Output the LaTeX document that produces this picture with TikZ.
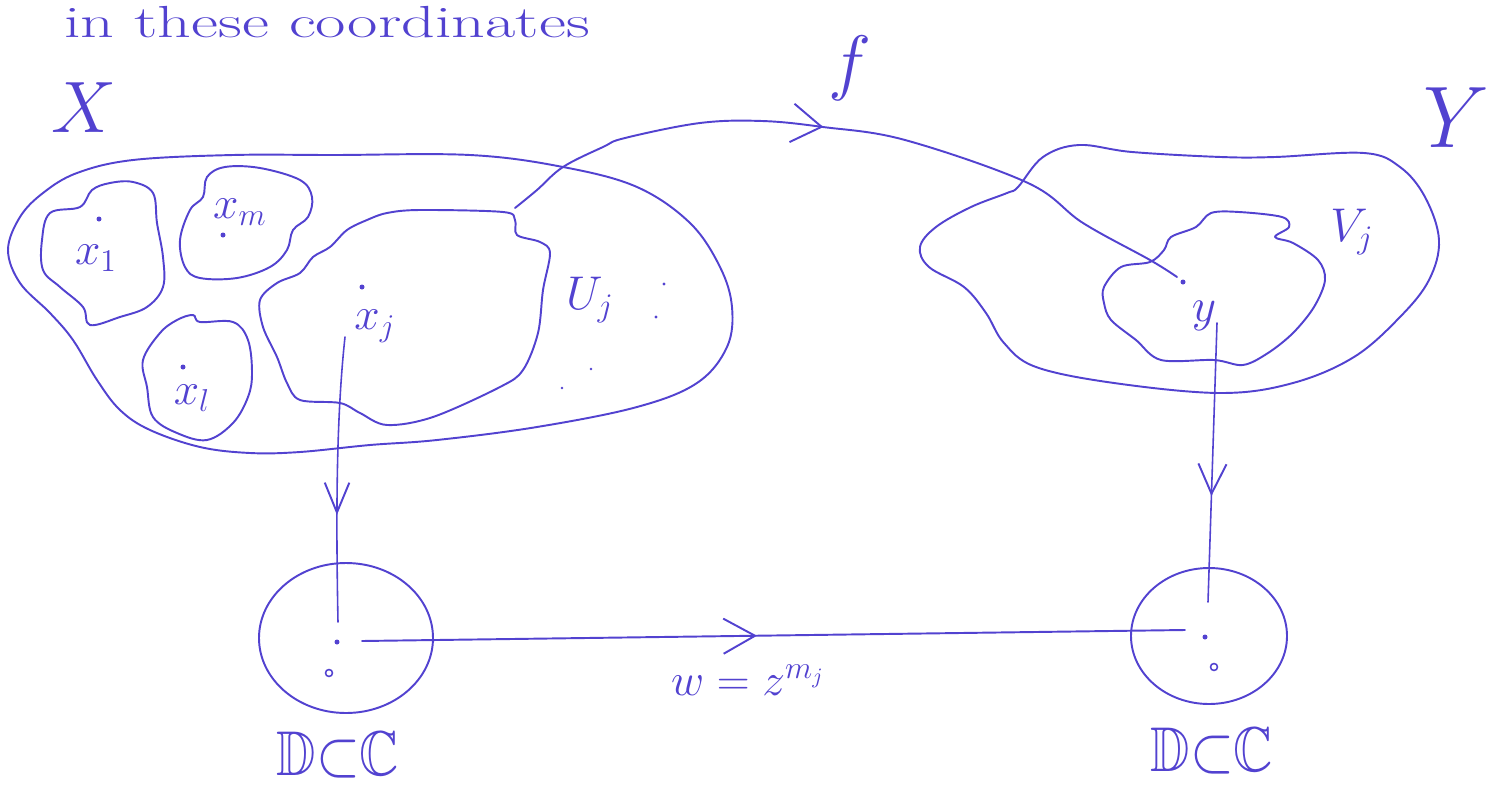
\documentclass[tikz,border=0pt]{standalone}
\usepackage{graphicx}
\usepackage{amssymb}
\usetikzlibrary{arrows.meta,decorations.markings}
\definecolor{ink}{RGB}{82,66,208}
\newcommand{\mylbl}[3]{\scalebox{#1}[#2]{\fontsize{20}{24}\selectfont #3}}
\tikzset{
  pen/.style={draw=ink, line width=1.1pt, line cap=round, line join=round},
  lab/.style={text=ink, inner sep=0pt},
  pt/.style={fill=ink, draw=none},
  midarrow/.style n args={3}{postaction={decorate, decoration={markings,
     mark=at position #1 with {\arrow[ink, line width=1.1pt]{Straight Barb[length=#2,width=#3]}}}}}
}
\begin{document}
\begin{tikzpicture}[x=0.02cm, y=-0.02cm]
\useasboundingbox (0,0) rectangle (1492,785);
% title
\node[lab, anchor=base west] (title) at (64,37) {\mylbl{1.88}{1.28}{in these coordinates}};
% set X
\draw[pen] plot[smooth cycle, tension=0.6] coordinates {(8,250) (20,217) (43,193) (77,173) (133,160) (233,155) (333,155) (470,155) (563,167) (637,187) (690,223) (720,267) (732,307) (727,347) (697,383) (637,407) (537,427) (437,440) (370,445) (300,452) (250,453) (200,447) (150,430) (120,410) (97,380) (73,340) (50,313) (20,283)};
\node[lab] (X) at (84,108) {\mylbl{2}{2}{$X$}};
% x_1 blob
\draw[pen] plot[smooth cycle, tension=0.6] coordinates {(50,213) (80,207) (92,190) (110,183) (133,182) (153,193) (157,223) (163,257) (163,287) (147,307) (120,317) (90,325) (83,307) (60,287) (43,270) (42,240)};
\fill[pt] (99,219) circle (2.5);
\node[lab] (x1) at (96,258) {\mylbl{1.25}{1.25}{$x_1$}};
% x_m blob
\draw[pen] plot[smooth cycle, tension=0.6] coordinates {(190,210) (203,197) (207,177) (225,167) (260,168) (300,180) (312,197) (308,217) (293,230) (287,250) (270,267) (237,278) (200,278) (185,267) (180,240)};
\fill[pt] (223,235) circle (2.5);
\node[lab] (xm) at (240,212) {\mylbl{1.25}{1.25}{$x_m$}};
% x_l blob
\draw[pen] plot[smooth cycle, tension=0.6] coordinates {(143,360) (160,333) (177,320) (193,315) (200,322) (233,322) (248,340) (252,373) (248,397) (233,423) (207,440) (177,433) (153,417) (147,387)};
\fill[pt] (183,367) circle (2.5);
\node[lab] (xl) at (192,398) {\mylbl{1.25}{1.25}{$x_l$}};
% x_j blob
\draw[pen] plot[smooth cycle, tension=0.55] coordinates {(260,300) (277,283) (300,273) (313,257) (330,247) (347,230) (367,220) (387,213) (420,210) (503,212) (515,220) (517,235) (540,242) (550,253) (543,290) (538,333) (523,370) (500,387) (433,417) (387,425) (360,413) (340,403) (300,400) (287,383) (277,357) (263,327)};
\fill[pt] (362,287) circle (2.5);
\node[lab] (xjl) at (375,326) {\mylbl{1.25}{1.25}{$x_j$}};
\node[lab] (uj) at (590,300) {\mylbl{1.3}{1.3}{$U_j$}};
\fill[pt] (664,284) circle (1.6);
\fill[pt] (656,317) circle (1.6);
\fill[pt] (591,369) circle (1.4);
\fill[pt] (562,388) circle (1.4);
% set Y
\draw[pen] plot[smooth cycle, tension=0.6] coordinates {(1018,187) (1043,157) (1079,145) (1132,152) (1221,157) (1275,157) (1364,153) (1400,167) (1425,197) (1439,240) (1429,280) (1400,317) (1354,357) (1293,383) (1221,393) (1114,383) (1036,367) (1004,343) (986,313) (964,287) (929,267) (920,247) (936,227) (971,207) (1007,193)};
\node[lab] (Y) at (1456,118) {\mylbl{2.3}{2.4}{$Y$}};
% V_j blob
\draw[pen] plot[smooth cycle, tension=0.55] coordinates {(1104,287) (1121,267) (1150,262) (1164,250) (1171,237) (1196,227) (1211,213) (1239,212) (1282,217) (1289,227) (1275,237) (1293,243) (1318,260) (1325,280) (1314,307) (1293,333) (1268,353) (1243,365) (1214,360) (1161,360) (1136,340) (1111,320) (1104,303)};
\node[lab] (vj) at (1352,232) {\mylbl{1.3}{1.3}{$V_j$}};
\coordinate (yp) at (1183,282);
\fill[pt] (yp) circle (2.5);
\node[lab] (yl) at (1204,316) {\mylbl{1.3}{1.3}{$y$}};
% f
\coordinate (fs) at (515,208);
\coordinate (fe) at (1177,277);
\draw[pen, midarrow={0.46}{17pt}{22pt}] plot[smooth, tension=0.6] coordinates {(fs) (537,190) (563,167) (603,147) (625,138) (700,123) (762,121) (823,127) (905,140) (1028,183) (1083,223) (1150,260) (fe)};
\node[lab] (f) at (850,68) {\mylbl{2}{2}{$f$}};
% disks
\draw[pen] (346,638) ellipse [x radius=87, y radius=75];
\draw[pen] (1209,636) ellipse [x radius=78, y radius=68];
\coordinate (lp) at (337,642);
\coordinate (rp) at (1205,637);
\fill[pt] (lp) circle (2.5);
\fill[pt] (rp) circle (2.5);
\draw[pen, line width=0.9pt] (329,673) circle (3.5);
\draw[pen, line width=0.9pt] (1214,667) circle (3.5);
% vertical maps
\coordinate (ls) at (345,337);
\coordinate (le) at (338,622);
\draw[pen, line width=0.9pt, midarrow={0.625}{17pt}{14pt}] (ls) .. controls (336,420) and (336,520) .. (le);
\coordinate (rs) at (1217,323);
\coordinate (re) at (1208,602);
\draw[pen, line width=0.9pt, midarrow={0.62}{17pt}{16pt}] (rs) -- (re);
% horizontal map
\coordinate (hs) at (362,641);
\coordinate (he) at (1185,630);
\draw[pen, midarrow={0.48}{18pt}{20pt}] (hs) -- (he);
\node[lab] (w) at (748,680) {\mylbl{1.25}{1.25}{$w=z^{m_j}$}};
% labels D subset C
\node[lab] (dl) at (338,755) {\mylbl{1.55}{1.8}{$\mathbb{D}{\subset}\mathbb{C}$}};
\node[lab] (dr) at (1212,751) {\mylbl{1.55}{1.8}{$\mathbb{D}{\subset}\mathbb{C}$}};
\end{tikzpicture}
\end{document}
